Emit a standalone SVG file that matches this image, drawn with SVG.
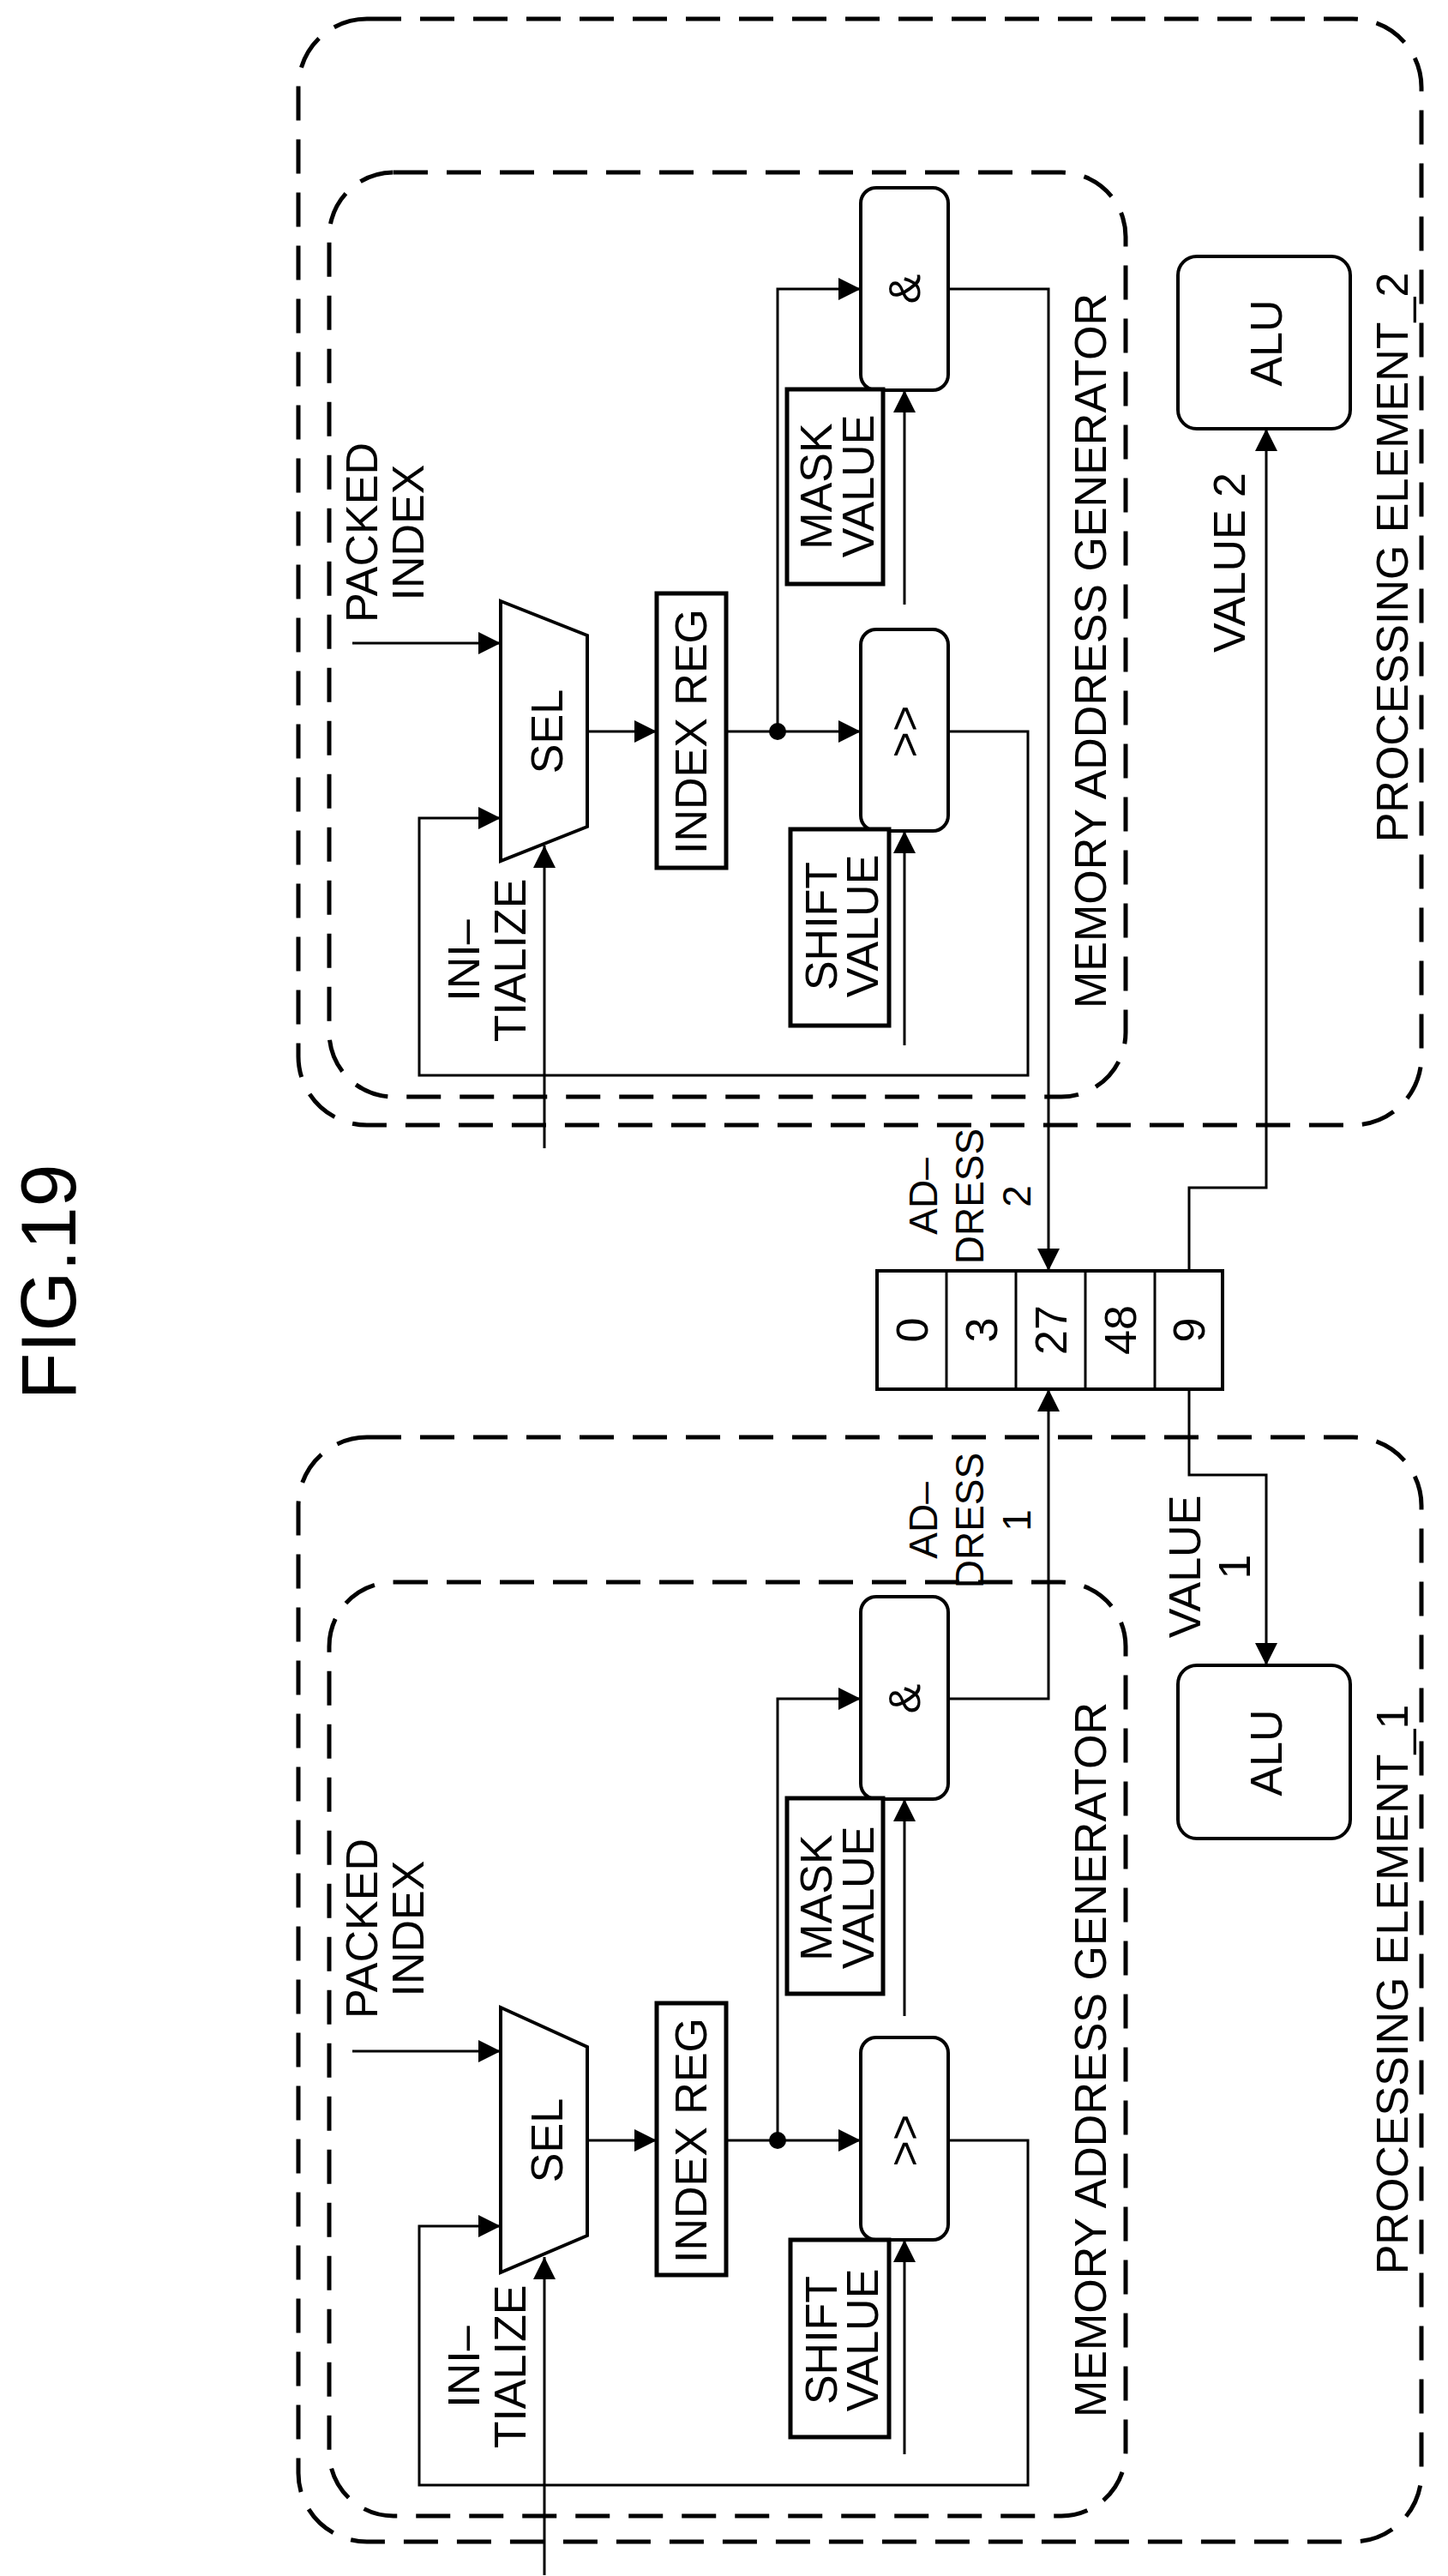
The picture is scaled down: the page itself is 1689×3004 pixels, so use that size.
<svg xmlns="http://www.w3.org/2000/svg" width="1689" height="3004" viewBox="0 0 1689 3004">
<defs>
<marker id="ah" viewBox="0 0 10 10" refX="10" refY="5" markerWidth="26" markerHeight="26" markerUnits="userSpaceOnUse" orient="auto"><path d="M0,0 L10,5 L0,10 z" fill="#000"/></marker>
<style>
text{font-family:"Liberation Sans",Arial,sans-serif;font-size:52px;fill:#000;text-anchor:middle;dominant-baseline:central}
.dash{fill:none;stroke:#000;stroke-width:5;stroke-dasharray:40 22}
.box{fill:#fff;stroke:#000;stroke-width:5}
.rbox{fill:#fff;stroke:#000;stroke-width:4}
.ln{fill:none;stroke:#000;stroke-width:3}
.ar{fill:none;stroke:#000;stroke-width:3;marker-end:url(#ah)}
.sm{font-size:46px}
</style>
</defs>
<text x="57" y="1495" transform="rotate(-90 57 1495)" style="font-size:90px">FIG.19</text>

<g id="pe2">
<rect class="dash" x="348" y="22" width="1310" height="1290" rx="80"/>
<text x="1624" y="650" transform="rotate(-90 1624 650)">PROCESSING ELEMENT_2</text>
</g>
<g id="mag2">
<rect class="dash" x="384" y="201" width="929" height="1078" rx="75"/>
<text x="1272" y="759" transform="rotate(-90 1272 759)">MEMORY ADDRESS GENERATOR</text>
</g>
<g id="pe1">
<rect class="dash" x="348" y="1676" width="1310" height="1288" rx="80"/>
<text x="1624" y="2320" transform="rotate(-90 1624 2320)">PROCESSING ELEMENT_1</text>
</g>
<g id="mag1">
<rect class="dash" x="384" y="1845" width="929" height="1089" rx="75"/>
<text x="1272" y="2402" transform="rotate(-90 1272 2402)">MEMORY ADDRESS GENERATOR</text>
</g>

<g id="connectors">
<line class="ar" x1="411" y1="750" x2="584" y2="750"/>
<polyline class="ar" points="1106,853 1199,853 1199,1254 489,1254 489,954 584,954"/>
<line class="ar" x1="635" y1="1339" x2="635" y2="986"/>
<line class="ar" x1="685" y1="853" x2="766" y2="853"/>
<line class="ar" x1="847" y1="853" x2="1004" y2="853"/>
<polyline class="ar" points="907,853 907,337 1004,337"/>
<line class="ar" x1="1055" y1="705" x2="1055" y2="455"/>
<line class="ar" x1="1055" y1="1219" x2="1055" y2="969"/>
<polyline class="ar" points="1106,337 1223,337 1223,1482"/>
<polyline class="ar" points="1387,1482 1387,1385 1477,1385 1477,500"/>
<line class="ar" x1="411" y1="2392" x2="584" y2="2392"/>
<polyline class="ar" points="1106,2496 1199,2496 1199,2898 489,2898 489,2596 584,2596"/>
<line class="ar" x1="635" y1="3003" x2="635" y2="2632"/>
<line class="ar" x1="685" y1="2496" x2="766" y2="2496"/>
<line class="ar" x1="847" y1="2496" x2="1004" y2="2496"/>
<polyline class="ar" points="907,2496 907,1981 1004,1981"/>
<line class="ar" x1="1055" y1="2351" x2="1055" y2="2098"/>
<line class="ar" x1="1055" y1="2862" x2="1055" y2="2612"/>
<polyline class="ar" points="1106,1981 1223,1981 1223,1620"/>
<polyline class="ar" points="1387,1620 1387,1720 1477,1720 1477,1942"/>
<circle cx="907" cy="853" r="10"/>
<circle cx="907" cy="2496" r="10"/>
</g>

<g id="labels">
<text x="422" y="621" transform="rotate(-90 422 621)">PACKED</text>
<text x="476" y="621" transform="rotate(-90 476 621)">INDEX</text>
<text x="541" y="1120" transform="rotate(-90 541 1120)">INI–</text>
<text x="595" y="1120" transform="rotate(-90 595 1120)">TIALIZE</text>
<text x="422" y="2249" transform="rotate(-90 422 2249)">PACKED</text>
<text x="476" y="2249" transform="rotate(-90 476 2249)">INDEX</text>
<text x="541" y="2760" transform="rotate(-90 541 2760)">INI–</text>
<text x="595" y="2760" transform="rotate(-90 595 2760)">TIALIZE</text>
<text class="sm" x="1077" y="1395" transform="rotate(-90 1077 1395)">AD–</text>
<text class="sm" x="1131" y="1395" transform="rotate(-90 1131 1395)">DRESS</text>
<text class="sm" x="1186" y="1395" transform="rotate(-90 1186 1395)">2</text>
<text class="sm" x="1077" y="1773" transform="rotate(-90 1077 1773)">AD–</text>
<text class="sm" x="1131" y="1773" transform="rotate(-90 1131 1773)">DRESS</text>
<text class="sm" x="1186" y="1773" transform="rotate(-90 1186 1773)">1</text>
<text x="1434" y="656" transform="rotate(-90 1434 656)">VALUE 2</text>
<text x="1382" y="1827" transform="rotate(-90 1382 1827)">VALUE</text>
<text x="1440" y="1827" transform="rotate(-90 1440 1827)">1</text>
</g>

<g id="sel2"><polygon class="box" style="stroke-width:4" points="584,701 685,741 685,964 584,1004"/><text x="638" y="853" transform="rotate(-90 638 853)">SEL</text></g>
<g id="indexreg2"><rect class="box" x="766" y="692" width="81" height="320"/><text x="806" y="853" transform="rotate(-90 806 853)">INDEX REG</text></g>
<g id="shift2"><rect class="rbox" x="1004" y="734" width="102" height="235" rx="18"/><text x="1055" y="853" transform="rotate(-90 1055 853)">&gt;&gt;</text></g>
<g id="and2"><rect class="rbox" x="1004" y="219" width="102" height="236" rx="18"/><text x="1055" y="337" transform="rotate(-90 1055 337)">&amp;</text></g>
<g id="mask2"><rect class="box" x="918" y="454" width="112" height="227"/><text x="952" y="567" transform="rotate(-90 952 567)">MASK</text><text x="1001" y="567" transform="rotate(-90 1001 567)">VALUE</text></g>
<g id="shiftval2"><rect class="box" x="922" y="967" width="115" height="229"/><text x="958" y="1080" transform="rotate(-90 958 1080)">SHIFT</text><text x="1006" y="1080" transform="rotate(-90 1006 1080)">VALUE</text></g>
<g id="alu2"><rect class="rbox" x="1374" y="299" width="201" height="201" rx="22"/><text x="1477" y="400" transform="rotate(-90 1477 400)">ALU</text></g>

<g id="sel1"><polygon class="box" style="stroke-width:4" points="584,2341 685,2387 685,2607 584,2650"/><text x="638" y="2496" transform="rotate(-90 638 2496)">SEL</text></g>
<g id="indexreg1"><rect class="box" x="766" y="2336" width="81" height="317"/><text x="806" y="2496" transform="rotate(-90 806 2496)">INDEX REG</text></g>
<g id="shift1"><rect class="rbox" x="1004" y="2376" width="102" height="236" rx="18"/><text x="1055" y="2496" transform="rotate(-90 1055 2496)">&gt;&gt;</text></g>
<g id="and1"><rect class="rbox" x="1004" y="1862" width="102" height="236" rx="18"/><text x="1055" y="1981" transform="rotate(-90 1055 1981)">&amp;</text></g>
<g id="mask1"><rect class="box" x="918" y="2097" width="112" height="228"/><text x="952" y="2213" transform="rotate(-90 952 2213)">MASK</text><text x="1001" y="2213" transform="rotate(-90 1001 2213)">VALUE</text></g>
<g id="shiftval1"><rect class="box" x="922" y="2612" width="115" height="230"/><text x="958" y="2729" transform="rotate(-90 958 2729)">SHIFT</text><text x="1006" y="2729" transform="rotate(-90 1006 2729)">VALUE</text></g>
<g id="alu1"><rect class="rbox" x="1374" y="1942" width="201" height="202" rx="22"/><text x="1477" y="2044" transform="rotate(-90 1477 2044)">ALU</text></g>

<g id="memory">
<rect class="box" style="stroke-width:4" x="1023" y="1482" width="403" height="138"/>
<line class="ln" x1="1104" y1="1482" x2="1104" y2="1620"/>
<line class="ln" x1="1185" y1="1482" x2="1185" y2="1620"/>
<line class="ln" x1="1266" y1="1482" x2="1266" y2="1620"/>
<line class="ln" x1="1347" y1="1482" x2="1347" y2="1620"/>
<text x="1064" y="1551" transform="rotate(-90 1064 1551)">0</text>
<text x="1145" y="1551" transform="rotate(-90 1145 1551)">3</text>
<text x="1226" y="1551" transform="rotate(-90 1226 1551)">27</text>
<text x="1307" y="1551" transform="rotate(-90 1307 1551)">48</text>
<text x="1387" y="1551" transform="rotate(-90 1387 1551)">9</text>
</g>
</svg>
